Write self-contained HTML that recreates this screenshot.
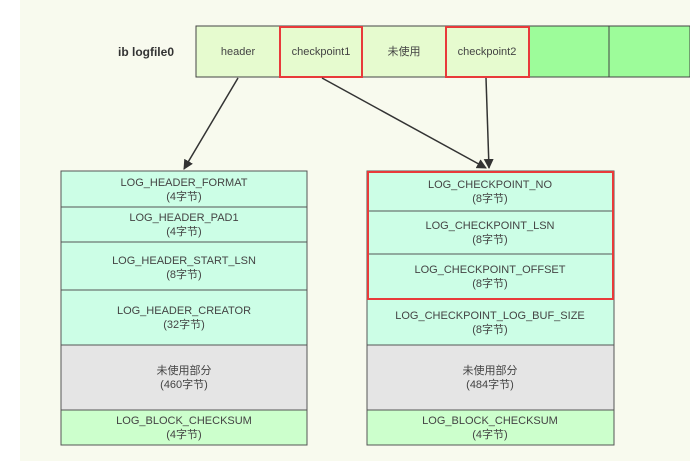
<!DOCTYPE html>
<html><head><meta charset="utf-8"><style>
body{margin:0;background:#fff;width:690px;height:467px;overflow:hidden}
svg text{font-family:"Liberation Sans","Noto Sans CJK SC",sans-serif;font-size:11px;fill:#444;text-anchor:middle}
</style></head><body>
<svg width="690" height="467" xmlns="http://www.w3.org/2000/svg">
<rect x="20" y="0" width="670" height="461" fill="#f8faee"/>
<text x="146" y="56" style="font-weight:bold;font-size:12px;fill:#333">ib  logfile0</text>
<g stroke="#444" stroke-width="1">
<rect x="196" y="26" width="333" height="51" fill="#e6fbcf"/>
<rect x="529" y="26" width="161" height="51" fill="#9dfc9a"/>
<line x1="609" y1="26" x2="609" y2="77"/>
</g>
<rect x="280" y="27" width="82" height="50" fill="none" stroke="#e83a3a" stroke-width="2"/>
<rect x="446" y="27" width="83" height="50" fill="none" stroke="#e83a3a" stroke-width="2"/>
<text x="238" y="55">header</text>
<text x="321" y="55">checkpoint1</text>
<text x="404" y="55">未使用</text>
<text x="487" y="55">checkpoint2</text>
<defs><marker id="a" markerWidth="10" markerHeight="10" refX="9" refY="5" orient="auto" markerUnits="userSpaceOnUse"><path d="M0,0 L10,5 L0,10 z" fill="#333"/></marker></defs>
<g stroke="#333" stroke-width="1.5" marker-end="url(#a)">
<line x1="238" y1="78" x2="184" y2="169"/>
<line x1="322" y1="78" x2="486" y2="168"/>
<line x1="486" y1="78" x2="489" y2="168"/>
</g>
<g stroke="#555" stroke-width="1">
<rect x="61" y="171" width="246" height="174" fill="#ccfee6"/>
<rect x="61" y="345" width="246" height="65" fill="#e5e5e5"/>
<rect x="61" y="410" width="246" height="35" fill="#ccffcc"/>
<line x1="61" y1="207" x2="307" y2="207"/><line x1="61" y1="242" x2="307" y2="242"/><line x1="61" y1="290" x2="307" y2="290"/>
<rect x="367" y="171" width="247" height="174" fill="#ccfee6"/>
<rect x="367" y="345" width="247" height="65" fill="#e5e5e5"/>
<rect x="367" y="410" width="247" height="35" fill="#ccffcc"/>
<line x1="367" y1="211" x2="614" y2="211"/><line x1="367" y1="254" x2="614" y2="254"/>
</g>
<rect x="368" y="172" width="245" height="127" fill="none" stroke="#e83a3a" stroke-width="2"/>
<text x="184" y="186">LOG_HEADER_FORMAT</text><text x="184" y="200">(4字节)</text>
<text x="184" y="221">LOG_HEADER_PAD1</text><text x="184" y="235">(4字节)</text>
<text x="184" y="264">LOG_HEADER_START_LSN</text><text x="184" y="278">(8字节)</text>
<text x="184" y="314">LOG_HEADER_CREATOR</text><text x="184" y="328">(32字节)</text>
<text x="184" y="374">未使用部分</text><text x="184" y="388">(460字节)</text>
<text x="184" y="424">LOG_BLOCK_CHECKSUM</text><text x="184" y="438">(4字节)</text>
<text x="490" y="188">LOG_CHECKPOINT_NO</text><text x="490" y="202">(8字节)</text>
<text x="490" y="229">LOG_CHECKPOINT_LSN</text><text x="490" y="243">(8字节)</text>
<text x="490" y="273">LOG_CHECKPOINT_OFFSET</text><text x="490" y="287">(8字节)</text>
<text x="490" y="319">LOG_CHECKPOINT_LOG_BUF_SIZE</text><text x="490" y="333">(8字节)</text>
<text x="490" y="374">未使用部分</text><text x="490" y="388">(484字节)</text>
<text x="490" y="424">LOG_BLOCK_CHECKSUM</text><text x="490" y="438">(4字节)</text>
</svg>
</body></html>
